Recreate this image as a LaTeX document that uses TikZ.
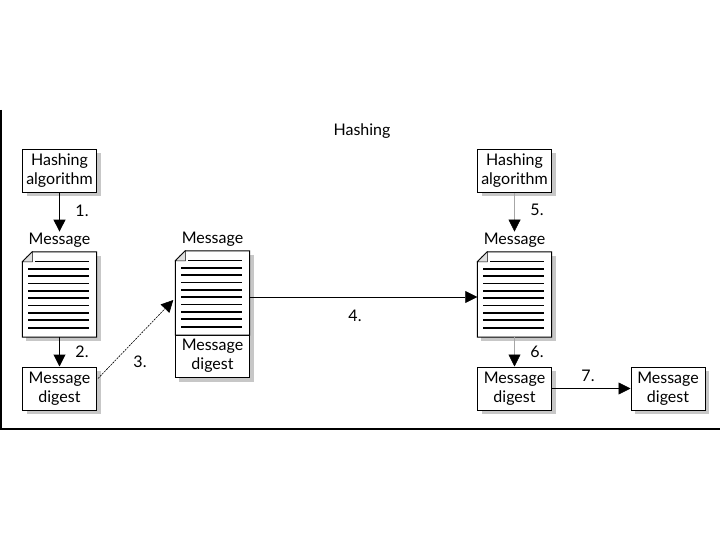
\documentclass[tikz,border=0pt]{standalone}
\usepackage{fontspec}
\setmainfont{Lato}
\usetikzlibrary{arrows.meta, calc, shadows, backgrounds}
\tikzstyle{plainbox} = [rectangle, draw, line width=1pt, fill=white, minimum width=74pt, minimum height=43pt, align=center, inner sep=1pt]
\tikzstyle{box} = [plainbox, drop shadow={shadow xshift=4pt, shadow yshift=-4pt, fill=black!22, opacity=1}]
\tikzstyle{doc} = [rectangle, minimum width=74pt, minimum height=85pt, inner sep=0pt]
\tikzstyle{lbl} = [inner sep=1pt]
\tikzstyle{arrow} = [line width=1pt, -{Triangle[width=12pt,length=12pt]}]
\tikzstyle{thinarrow} = [line width=0.7pt, -{Triangle[width=12pt,length=12pt]}]
\tikzstyle{greyarrow} = [line width=0.6pt, draw=black!35, -{Triangle[width=12pt,length=12pt,color=black]}]
\tikzstyle{dotarrow} = [line width=0.6pt, dash pattern=on 2pt off 1pt, -{Triangle[width=12pt,length=12pt]}]

\begin{document}
\begin{tikzpicture}[x=1pt, y=-1pt, font=\fontsize{16}{19}\selectfont]
  \useasboundingbox (0,0) rectangle (720,540);
  \draw[line width=1.2pt] (1,110) -- (1,429) -- (720,429);

  \node (title) at (362,131) {Hashing};

  % sender
  \node[box] (hash1) at (59.5,171) {Hashing\\algorithm};
  \node[lbl] (msg1lbl) at (59.5,240) {Message};
  \node[doc] (msg1) at (59.5,294.5) {};
  \node[box] (dig1) at (59.5,388.5) {Message\\digest};

  % sent message with digest
  \node[lbl] (msg2lbl) at (212.5,239) {Message};
  \node[doc, minimum height=84pt] (msg2) at (212.5,293) {};
  \node[plainbox, minimum height=42pt] (dig2) at (212.5,356) {Message\\digest};

  % receiver
  \node[box] (hash2) at (514.5,171) {Hashing\\algorithm};
  \node[lbl] (msg3lbl) at (514.5,240) {Message};
  \node[doc] (msg3) at (514.5,294.5) {};
  \node[box] (dig3) at (514.5,388.5) {Message\\digest};
  \node[box] (dig4) at (668,388.5) {Message\\digest};

  \begin{scope}[on background layer]
    \fill[black!22] ($(msg1.north west)+(4,4)$) rectangle ($(msg1.south east)+(4,4)$);
    \fill[black!22] ($(msg2.north west)+(4,4)$) rectangle ($(dig2.south east)+(4,4)$);
    \fill[black!22] ($(msg3.north west)+(4,4)$) rectangle ($(msg3.south east)+(4,4)$);
  \end{scope}

  % the documents
  \foreach \d in {msg1,msg2,msg3} {
    \draw[line width=1pt, fill=white] ($(\d.north west)+(10,0)$) -- (\d.north east)
      -- (\d.south east) -- (\d.south west) -- ($(\d.north west)+(0,10)$) -- cycle;
    \draw[line width=0.6pt, fill=black!12] ($(\d.north west)+(0,10)$) -- ($(\d.north west)+(10,0)$)
      -- ($(\d.north west)+(10,10)$) -- cycle;
    \foreach \i/\w/\s in {0/0.8/13, 1/2/6, 2/2/6, 3/0.8/6, 4/2/6, 5/2/6, 6/0.8/6, 7/2/6, 8/2/6, 9/2/6}
      \draw[line width=\w pt] ($(\d.north west)+(\s,10+7.3*\i)$) -- ($(\d.north east)+(-8,10+7.3*\i)$);
  }

  % steps
  \draw[arrow] (hash1) -- (msg1lbl);
  \node (n1) at (82,211) {1.};
  \draw[arrow] (msg1) -- (dig1);
  \node (n2) at (82,352) {2.};
  \draw[dotarrow] ($(dig1.north east)+(1,12)$) -- ($(msg2.west)+(-2,7)$);
  \node (n3) at (140,362) {3.};
  \draw[thinarrow] ($(msg2.east)+(0,4)$) -- ($(msg3.west)+(0,2.5)$);
  \node (n4) at (355,316) {4.};
  \draw[greyarrow] (hash2) -- (msg3lbl);
  \node (n5) at (537,210) {5.};
  \draw[greyarrow] (msg3) -- (dig3);
  \node (n6) at (537,352) {6.};
  \draw[thinarrow] (dig3) -- (dig4);
  \node (n7) at (588,376) {7.};
\end{tikzpicture}
\end{document}
